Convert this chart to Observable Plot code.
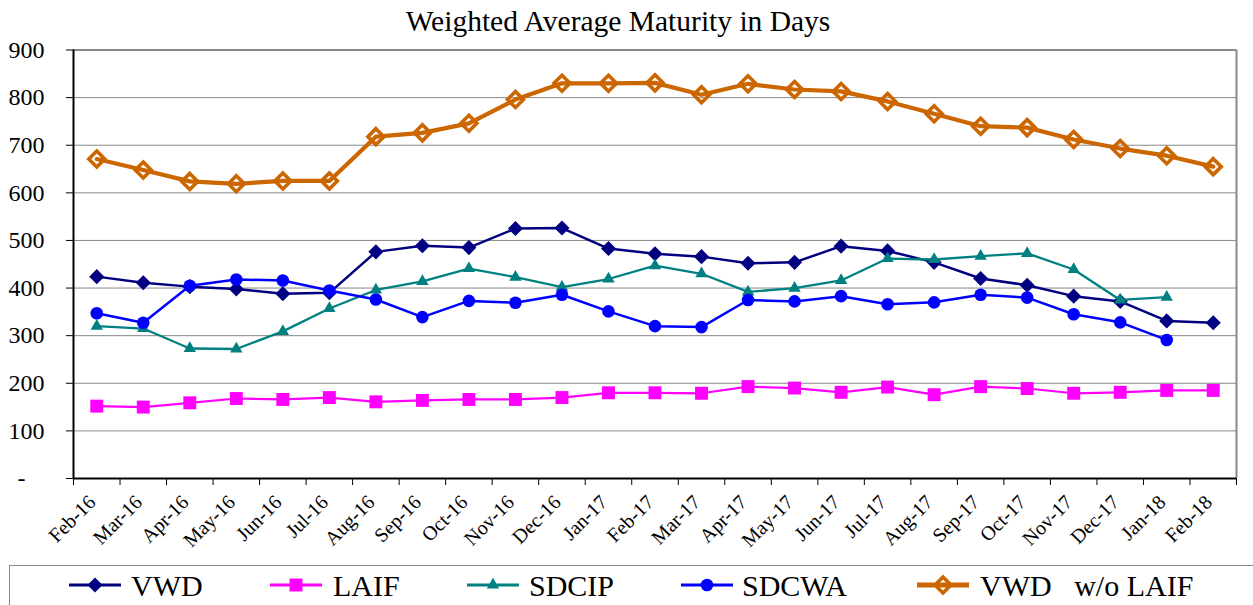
<!DOCTYPE html>
<html><head><meta charset="utf-8">
<script src="https://cdn.jsdelivr.net/npm/d3@7"></script>
<script src="https://cdn.jsdelivr.net/npm/@observablehq/plot@0.6"></script>
<style>
body{margin:0;background:#fff;font-family:"Liberation Serif";}
#wrap{position:relative;width:1253px;height:605px;overflow:hidden;background:#fff;font-family:"Liberation Serif";}
#title{position:absolute;z-index:2;left:0;top:1px;width:1236px;text-align:center;font-size:29.5px;line-height:40px;color:#000;font-family:"Liberation Serif";}
#chart{position:absolute;left:0;top:0;z-index:1;}
#chart svg, #chart svg text{font-family:"Liberation Serif" !important;}
#legbox{position:absolute;left:9px;top:565px;width:1300px;height:60px;border-top:1px solid #888;border-left:1px solid #888;}
.legtxt{position:absolute;top:571px;font-size:30px;line-height:30px;white-space:pre;color:#000;font-family:"Liberation Serif";}
.legsw{position:absolute;top:570px;}
</style></head>
<body><div id="wrap"><div id="title">Weighted Average Maturity in Days</div><div id="chart"></div><div id="legbox"></div></div>
<script>
const months = ["Feb-16","Mar-16","Apr-16","May-16","Jun-16","Jul-16","Aug-16","Sep-16","Oct-16","Nov-16","Dec-16","Jan-17","Feb-17","Mar-17","Apr-17","May-17","Jun-17","Jul-17","Aug-17","Sep-17","Oct-17","Nov-17","Dec-17","Jan-18","Feb-18"];
const vwd = [424,411,403,398,388,390,476,489,485,525,526,483,472,466,452,454,488,478,454,420,406,383,372,331,327];
const laif = [152,150,159,168,166,170,161,164,166,166,170,180,180,179,193,190,181,192,176,193,189,179,181,185,185];
const sdcip = [320,315,273,272,309,357,396,414,441,423,402,419,447,430,392,400,416,462,460,467,473,439,375,381,null];
const sdcwa = [347,327,405,418,416,395,376,339,373,369,386,351,320,318,375,372,383,366,370,386,380,345,328,291,null];
const vwdNoLaif = [671,648,624,619,625,625,718,726,746,796,830,830,831,806,829,817,813,792,766,740,737,712,693,678,655];
const yTicks = [0,100,200,300,400,500,600,700,800,900];

const FONT = "Liberation Serif";
const series = [
  {name:"VWD", values:vwd, color:"#000080", symbol:d3.symbolDiamond2, r:6.8, fill:"#000080", sw:2.5, dsw:0, lx:69, tx:131},
  {name:"LAIF", values:laif, color:"#FF00FF", symbol:d3.symbolSquare, r:7.3, fill:"#FF00FF", sw:2.2, dsw:0, lx:270, tx:333},
  {name:"SDCIP", values:sdcip, color:"#008080", symbol:d3.symbolTriangle, r:4.6, fill:"#008080", sw:2.3, dsw:0, lx:467, tx:529},
  {name:"SDCWA", values:sdcwa, color:"#0000FF", symbol:d3.symbolCircle, r:6.3, fill:"#0000FF", sw:2.5, dsw:0, lx:681, tx:742},
  {name:"VWD   w/o LAIF", values:vwdNoLaif, color:"#CC6600", symbol:d3.symbolDiamond2, r:7.2, fill:"none", sw:4.2, dsw:3.6, lx:917, tx:980}
];

const idx = d3.range(months.length);
const marks = [
  Plot.gridY(yTicks.filter(d => d > 0 && d < 900), {stroke:"#888", strokeOpacity:1, strokeWidth:1}),
  Plot.ruleY([900], {stroke:"#888", strokeWidth:2}),
  Plot.ruleX([months.length - 0.5], {stroke:"#888", strokeWidth:2}),
  Plot.ruleX([-0.5], {stroke:"#000", strokeWidth:2}),
  Plot.ruleY([0], {stroke:"#000", strokeWidth:2}),
  Plot.axisY({ticks: yTicks.filter(d => d > 0), tickSize:7, tickPadding:22, fontSize:24, fontFamily:FONT, tickFormat: d => String(d), label:null}),
  Plot.axisY({ticks: [0], tickSize:7, tickPadding:41, fontSize:24, fontFamily:FONT, tickFormat: () => "-", label:null}),
  Plot.axisX({ticks: d3.range(months.length + 1).map(i => i - 0.5), tickSize:7, tickFormat: () => "", label:null}),
  Plot.text(idx, {x: d => d, text: d => months[d], frameAnchor:"bottom", rotate:-45, textAnchor:"end", dy:25, fontSize:20, fontFamily:FONT, fill:"#000"})
];
for (const s of series) {
  const rows = s.values.map((v, i) => ({i, v})).filter(d => d.v != null);
  marks.push(Plot.line(rows, {x:"i", y:"v", stroke:s.color, strokeWidth:s.sw}));
  marks.push(Plot.dot(rows, {x:"i", y:"v", symbol:s.symbol, r:s.r, fill:s.fill, stroke: s.dsw ? s.color : "none", strokeWidth:s.dsw}));
}

const chart = Plot.plot({
  width:1253, height:560,
  marginLeft:73, marginRight:17, marginTop:49.5, marginBottom:82,
  x:{type:"linear", domain:[-0.5, months.length - 0.5], axis:null},
  y:{type:"linear", domain:[0, 900], axis:null},
  style:{fontFamily:FONT, background:"transparent", color:"black", overflow:"visible"},
  marks
});
document.getElementById("chart").appendChild(chart);

// legend
const wrap = document.getElementById("wrap");
for (const s of series) {
  const svg = d3.create("svg").attr("class","legsw").attr("width",56).attr("height",30)
    .style("left", (s.lx - 2) + "px").style("overflow","visible");
  svg.append("line").attr("x1",2).attr("x2",54).attr("y1",15).attr("y2",15)
    .attr("stroke",s.color).attr("stroke-width", s.dsw ? 5 : 3);
  svg.append("path").attr("transform","translate(28,15)")
    .attr("d", d3.symbol(s.symbol, s.r * s.r * Math.PI)())
    .attr("fill", s.fill).attr("stroke", s.dsw ? s.color : "none").attr("stroke-width", s.dsw);
  wrap.appendChild(svg.node());
  const t = document.createElement("span");
  t.className = "legtxt"; t.style.left = s.tx + "px"; t.textContent = s.name;
  wrap.appendChild(t);
}
</script></body></html>
